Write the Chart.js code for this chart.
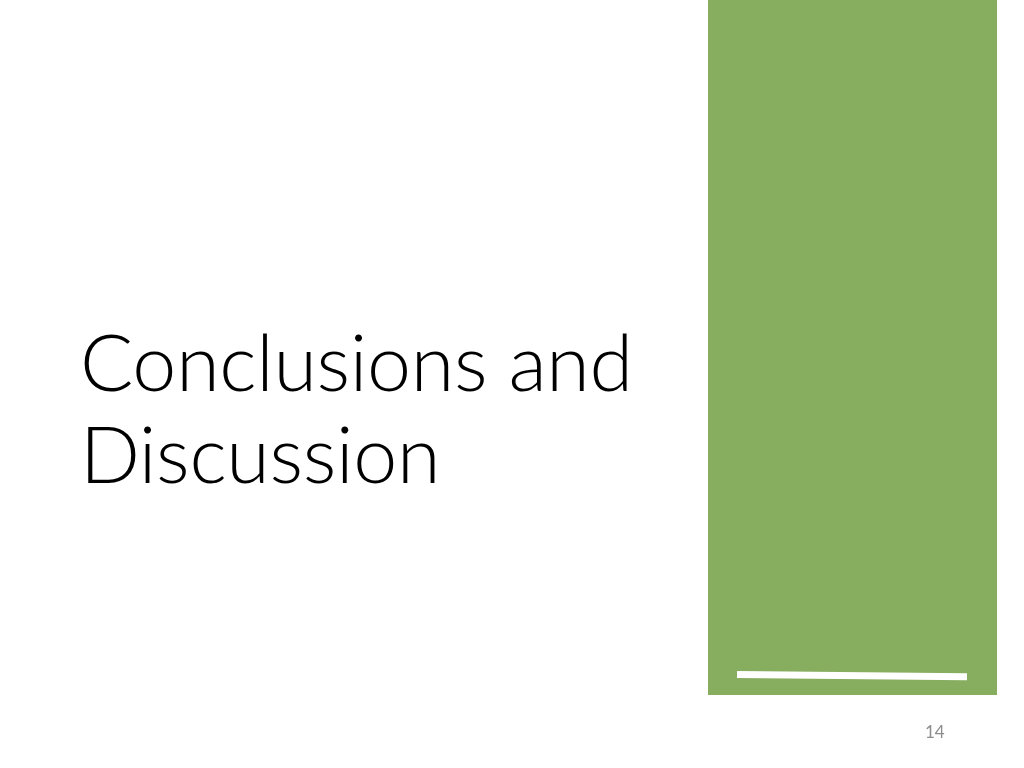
<!DOCTYPE html>
<html>
<head>
<meta charset="utf-8">
<script src="https://cdn.jsdelivr.net/npm/chart.js@4.4.0/dist/chart.umd.min.js"></script>
<style>
  html, body { margin: 0; padding: 0; background: #ffffff; }
  #wrap { position: relative; width: 1024px; height: 768px; overflow: hidden; }
  #slide { position: absolute; left: 0; top: 0; }
  .title {
    position: absolute; left: 80px; top: 315px;
    font-family: "Lato", "Open Sans", sans-serif; font-weight: 300;
    font-size: 79px; line-height: 92px; color: #000000; white-space: nowrap;
    letter-spacing: -0.3px;
  }
  .pageno {
    position: absolute; left: 925px; top: 721px;
    font-family: "Lato", "Open Sans", sans-serif; font-size: 17px; color: #8c8c8c;
  }
</style>
</head>
<body>
<div id="wrap">
  <canvas id="slide" width="1024" height="768"></canvas>
  <div class="title">Conclusions and<br>Discussion</div>
  <div class="pageno">14</div>
</div>
<script>
const panelEdges = [708, 997];
const panelTop = 0;
const panelBottom = 695;
const ruleEnds = [737, 967];
const ruleLevels = [674.5, 676.7];

document.addEventListener('DOMContentLoaded', function () {
    const ctx = document.getElementById('slide').getContext('2d');
    new Chart(ctx, {
        type: 'line',
        data: {
            datasets: [
                {
                    label: 'Régua',
                    data: ruleEnds.map((x, i) => ({ x: x, y: ruleLevels[i] })),
                    borderColor: '#ffffff',
                    borderWidth: 7,
                    borderCapStyle: 'butt',
                    pointRadius: 0,
                    fill: false,
                    order: 0
                },
                {
                    label: 'Painel',
                    data: panelEdges.map(x => ({ x: x, y: panelBottom })),
                    borderWidth: 0,
                    borderColor: 'rgba(0,0,0,0)',
                    backgroundColor: '#87ad5f',
                    pointRadius: 0,
                    fill: { value: panelTop },
                    order: 1
                }
            ]
        },
        options: {
            responsive: false,
            animation: false,
            events: [],
            layout: { padding: 0 },
            plugins: { legend: { display: false }, tooltip: { enabled: false } },
            scales: {
                x: { type: 'linear', min: 0, max: 1024, display: false },
                y: { type: 'linear', min: 0, max: 768, reverse: true, display: false }
            }
        }
    });
});
</script>
</body>
</html>
